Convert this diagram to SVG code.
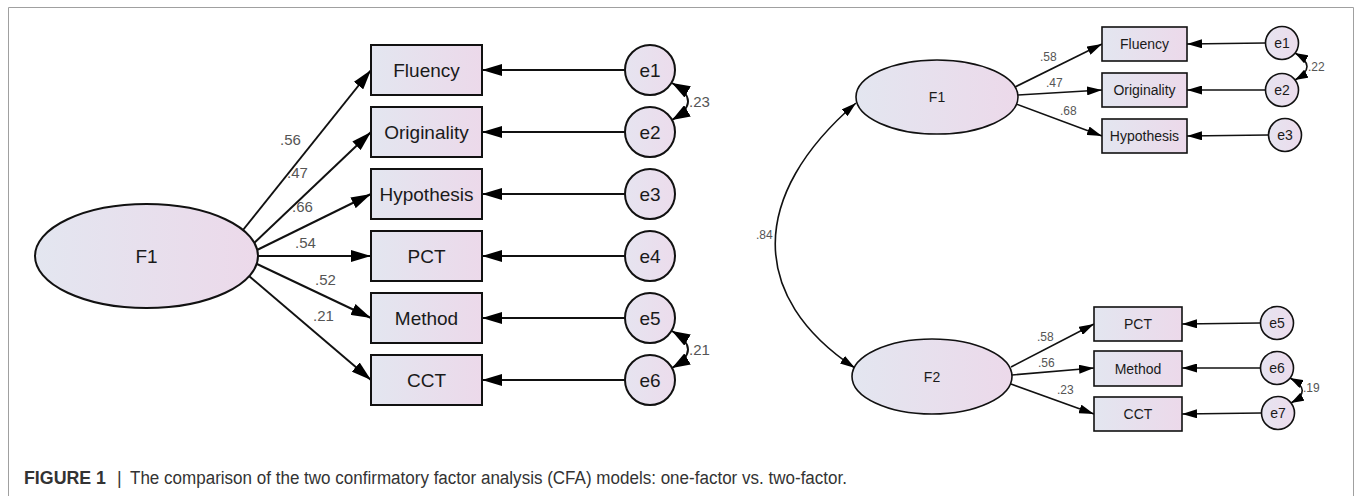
<svg xmlns="http://www.w3.org/2000/svg" width="1356" height="496" viewBox="0 0 1356 496">
<style>
.lat{stroke:#111;stroke-width:2;fill:url(#g)}
.latS{stroke:#111;stroke-width:1.6;fill:url(#g)}
.obs{stroke:#111;stroke-width:2;fill:url(#g)}
.obsS{stroke:#111;stroke-width:1.6;fill:url(#g)}
.err{stroke:#111;stroke-width:2;fill:url(#gc)}
.errS{stroke:#111;stroke-width:1.6;fill:url(#gc)}
.t{font-family:"Liberation Sans",Arial,sans-serif;fill:#1a1a1a;text-anchor:middle}
.big{font-size:19px}
.sm{font-size:14px}
.num{font-family:"Liberation Sans",Arial,sans-serif;fill:#555;font-size:15px}
.numS{font-family:"Liberation Sans",Arial,sans-serif;fill:#555;font-size:12px}
.c1{stroke:#111;stroke-width:2;fill:none}
.c2{stroke:#111;stroke-width:1.6;fill:none}
.cap{font-family:"Liberation Sans",Arial,sans-serif;font-size:18px;fill:#333}
</style>
<defs>
<linearGradient id="g" x1="0" y1="0" x2="1" y2="0">
<stop offset="0" stop-color="#e3e6f0"/>
<stop offset="1" stop-color="#ecd9ea"/>
</linearGradient>
<linearGradient id="gc" x1="0" y1="0" x2="1" y2="0">
<stop offset="0" stop-color="#e6e4f0"/>
<stop offset="1" stop-color="#ecdcec"/>
</linearGradient>
<marker id="aL" viewBox="0 0 20 12" refX="20" refY="6" markerWidth="20" markerHeight="12" markerUnits="userSpaceOnUse" orient="auto-start-reverse"><path d="M0,0 L20,6 L0,12 Z" fill="#000"/></marker>
<marker id="aM" viewBox="0 0 18 13" refX="18" refY="6.5" markerWidth="18" markerHeight="13" markerUnits="userSpaceOnUse" orient="auto-start-reverse"><path d="M0,0 L18,6.5 L0,13 Z" fill="#000"/></marker>
<marker id="aS" viewBox="0 0 15 9" refX="15" refY="4.5" markerWidth="15" markerHeight="9" markerUnits="userSpaceOnUse" orient="auto-start-reverse"><path d="M0,0 L15,4.5 L0,9 Z" fill="#000"/></marker>
<marker id="aT" viewBox="0 0 13 9" refX="13" refY="4.5" markerWidth="13" markerHeight="9" markerUnits="userSpaceOnUse" orient="auto-start-reverse"><path d="M0,0 L13,4.5 L0,9 Z" fill="#000"/></marker>
</defs>
<rect width="1356" height="496" fill="#fff"/>
<path d="M8.5,496 V7.5 H1353.5 V496" fill="none" stroke="#a0a0a0" stroke-width="1"/>

<g id="connectors">
<line class="c1" x1="243" y1="230" x2="371" y2="70" marker-end="url(#aL)"/>
<line class="c1" x1="253" y1="244" x2="371" y2="132" marker-end="url(#aL)"/>
<line class="c1" x1="257" y1="250" x2="371" y2="194" marker-end="url(#aL)"/>
<line class="c1" x1="258" y1="256" x2="371" y2="256" marker-end="url(#aL)"/>
<line class="c1" x1="257" y1="264" x2="371" y2="318" marker-end="url(#aL)"/>
<line class="c1" x1="249" y1="276" x2="371" y2="380" marker-end="url(#aL)"/>
<line class="c1" x1="625" y1="70" x2="482" y2="70" marker-end="url(#aL)"/>
<line class="c1" x1="625" y1="132" x2="482" y2="132" marker-end="url(#aL)"/>
<line class="c1" x1="625" y1="194" x2="482" y2="194" marker-end="url(#aL)"/>
<line class="c1" x1="625" y1="256" x2="482" y2="256" marker-end="url(#aL)"/>
<line class="c1" x1="625" y1="318" x2="482" y2="318" marker-end="url(#aL)"/>
<line class="c1" x1="625" y1="380" x2="482" y2="380" marker-end="url(#aL)"/>
<path class="c1" d="M672,83 Q704,101 672,120" marker-start="url(#aM)" marker-end="url(#aM)"/>
<path class="c1" d="M672,331 Q704,349.5 672,368" marker-start="url(#aM)" marker-end="url(#aM)"/>
<line class="c2" x1="1015" y1="87" x2="1102" y2="44" marker-end="url(#aS)"/>
<line class="c2" x1="1018" y1="95" x2="1102" y2="90" marker-end="url(#aS)"/>
<line class="c2" x1="1016" y1="104" x2="1102" y2="136" marker-end="url(#aS)"/>
<line class="c2" x1="1011" y1="367" x2="1094" y2="324" marker-end="url(#aS)"/>
<line class="c2" x1="1012" y1="375" x2="1094" y2="368" marker-end="url(#aS)"/>
<line class="c2" x1="1011" y1="384" x2="1094" y2="414" marker-end="url(#aS)"/>
<line class="c2" x1="1265" y1="43" x2="1187" y2="44" marker-end="url(#aS)"/>
<line class="c2" x1="1265" y1="90" x2="1187" y2="90" marker-end="url(#aS)"/>
<line class="c2" x1="1268" y1="135" x2="1187" y2="136" marker-end="url(#aS)"/>
<line class="c2" x1="1260" y1="323" x2="1182" y2="324" marker-end="url(#aS)"/>
<line class="c2" x1="1260" y1="368" x2="1182" y2="368" marker-end="url(#aS)"/>
<line class="c2" x1="1261" y1="413" x2="1182" y2="414" marker-end="url(#aS)"/>
<path class="c2" d="M1295,53 Q1319,66.5 1295,80" marker-start="url(#aT)" marker-end="url(#aT)"/>
<path class="c2" d="M1290,378 Q1314,390.5 1291,403" marker-start="url(#aT)" marker-end="url(#aT)"/>
<path class="c2" d="M856,103 C749,195 748,297 855,368" marker-start="url(#aS)" marker-end="url(#aS)"/>
<text class="num" x="280" y="145">.56</text>
<text class="num" x="287" y="178">.47</text>
<text class="num" x="292" y="212">.66</text>
<text class="num" x="295" y="248">.54</text>
<text class="num" x="315" y="285">.52</text>
<text class="num" x="313" y="321">.21</text>
<text class="num" x="689" y="107">.23</text>
<text class="num" x="689" y="355">.21</text>
<text class="numS" x="1040" y="61">.58</text>
<text class="numS" x="1046" y="87">.47</text>
<text class="numS" x="1060" y="115">.68</text>
<text class="numS" x="1037" y="341">.58</text>
<text class="numS" x="1038" y="367">.56</text>
<text class="numS" x="1057" y="394">.23</text>
<text class="numS" x="1308" y="71">.22</text>
<text class="numS" x="1303" y="392">.19</text>
<text class="numS" x="756" y="239">.84</text>
</g>

<g id="L_F1"><ellipse class="lat" cx="146.5" cy="256" rx="111.5" ry="52"/><text class="t big" x="146.5" y="262.5">F1</text></g>
<g id="L_Fluency"><rect class="obs" x="371" y="45" width="111" height="50"/><text class="t big" x="426.5" y="76.5">Fluency</text></g>
<g id="L_Originality"><rect class="obs" x="371" y="107" width="111" height="50"/><text class="t big" x="426.5" y="138.5">Originality</text></g>
<g id="L_Hypothesis"><rect class="obs" x="371" y="169" width="111" height="50"/><text class="t big" x="426.5" y="200.5">Hypothesis</text></g>
<g id="L_PCT"><rect class="obs" x="371" y="231" width="111" height="50"/><text class="t big" x="426.5" y="262.5">PCT</text></g>
<g id="L_Method"><rect class="obs" x="371" y="293" width="111" height="50"/><text class="t big" x="426.5" y="324.5">Method</text></g>
<g id="L_CCT"><rect class="obs" x="371" y="355" width="111" height="50"/><text class="t big" x="426.5" y="386.5">CCT</text></g>
<g id="L_e1"><circle class="err" cx="650" cy="70" r="25"/><text class="t big" x="650" y="76.5">e1</text></g>
<g id="L_e2"><circle class="err" cx="650" cy="132" r="25"/><text class="t big" x="650" y="138.5">e2</text></g>
<g id="L_e3"><circle class="err" cx="650" cy="194" r="25"/><text class="t big" x="650" y="200.5">e3</text></g>
<g id="L_e4"><circle class="err" cx="650" cy="256" r="25"/><text class="t big" x="650" y="262.5">e4</text></g>
<g id="L_e5"><circle class="err" cx="650" cy="318" r="25"/><text class="t big" x="650" y="324.5">e5</text></g>
<g id="L_e6"><circle class="err" cx="650" cy="380" r="25"/><text class="t big" x="650" y="386.5">e6</text></g>

<g id="R_F1"><ellipse class="latS" cx="937" cy="97" rx="81" ry="37"/><text class="t sm" x="937" y="102">F1</text></g>
<g id="R_F2"><ellipse class="latS" cx="932" cy="376.5" rx="80" ry="37.5"/><text class="t sm" x="932" y="381.5">F2</text></g>
<g id="R_Fluency"><rect class="obsS" x="1102" y="27" width="85" height="34"/><text class="t sm" x="1144.5" y="49">Fluency</text></g>
<g id="R_Originality"><rect class="obsS" x="1102" y="73" width="85" height="34"/><text class="t sm" x="1144.5" y="95">Originality</text></g>
<g id="R_Hypothesis"><rect class="obsS" x="1102" y="119" width="85" height="34"/><text class="t sm" x="1144.5" y="141">Hypothesis</text></g>
<g id="R_PCT"><rect class="obsS" x="1094" y="307" width="88" height="34"/><text class="t sm" x="1138" y="329">PCT</text></g>
<g id="R_Method"><rect class="obsS" x="1094" y="351" width="88" height="35"/><text class="t sm" x="1138" y="373.5">Method</text></g>
<g id="R_CCT"><rect class="obsS" x="1094" y="397" width="88" height="34"/><text class="t sm" x="1138" y="419">CCT</text></g>
<g id="R_e1"><circle class="errS" cx="1282" cy="43" r="16.5"/><text class="t sm" x="1282" y="48">e1</text></g>
<g id="R_e2"><circle class="errS" cx="1282" cy="90" r="16.5"/><text class="t sm" x="1282" y="95">e2</text></g>
<g id="R_e3"><circle class="errS" cx="1285" cy="135" r="16.5"/><text class="t sm" x="1285" y="140">e3</text></g>
<g id="R_e5"><circle class="errS" cx="1277" cy="323" r="16.5"/><text class="t sm" x="1277" y="328">e5</text></g>
<g id="R_e6"><circle class="errS" cx="1277" cy="368" r="16.5"/><text class="t sm" x="1277" y="373">e6</text></g>
<g id="R_e7"><circle class="errS" cx="1278" cy="413" r="16.5"/><text class="t sm" x="1278" y="418">e7</text></g>

<g id="caption">
<text class="cap" x="24" y="484" font-weight="bold" fill="#222" textLength="82" lengthAdjust="spacingAndGlyphs">FIGURE 1</text>
<text class="cap" x="117" y="484">|</text>
<text class="cap" x="130" y="484" textLength="717" lengthAdjust="spacingAndGlyphs">The comparison of the two confirmatory factor analysis (CFA) models: one-factor vs. two-factor.</text>
</g>
</svg>
